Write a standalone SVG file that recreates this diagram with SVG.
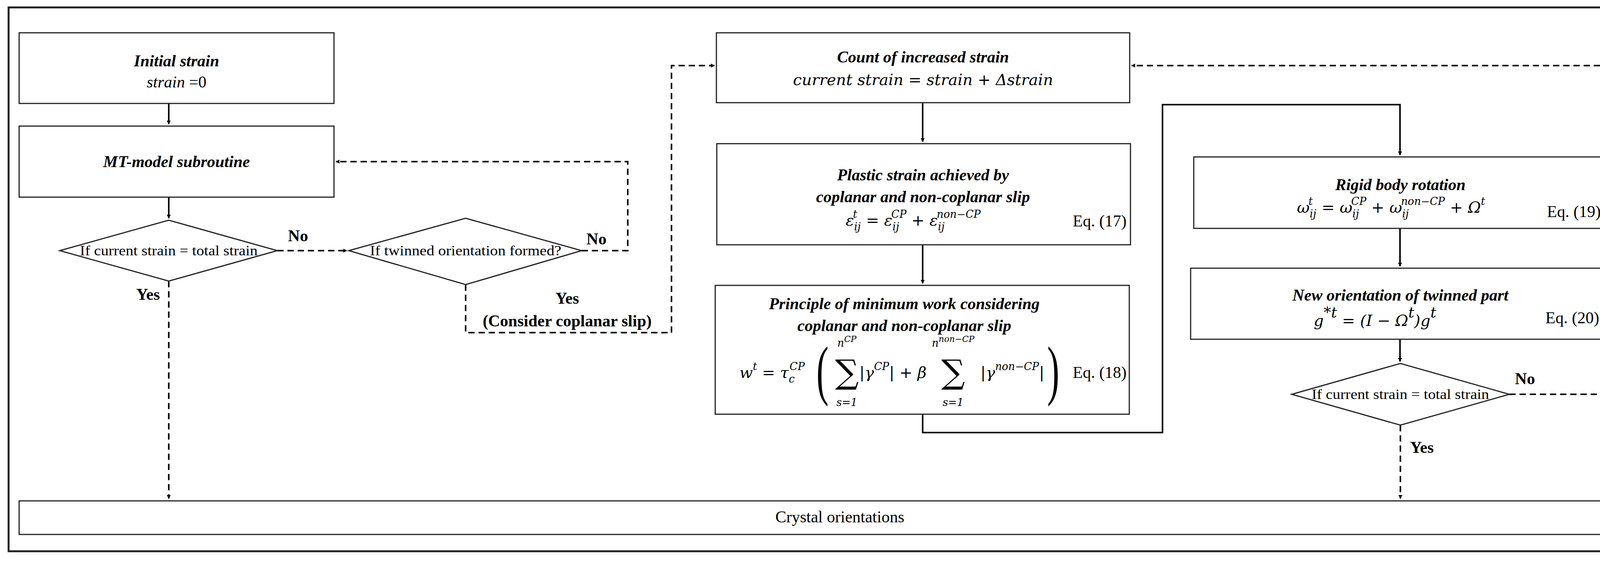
<svg xmlns="http://www.w3.org/2000/svg" width="4306" height="1437" viewBox="0 0 4306 1437">
<defs>
<marker id="ah" markerWidth="10" markerHeight="10" refX="9" refY="5" orient="auto" markerUnits="userSpaceOnUse" viewBox="0 0 10 10"><path d="M0,0 L10,5 L0,10 z" fill="#000"/></marker>
<style>
.box{fill:#fff;stroke:#222;stroke-width:3}
.t{font-family:"Liberation Serif",serif;font-size:42px;fill:#000}
.m{font-family:"DejaVu Serif","Liberation Serif",serif;font-style:italic;font-size:40px;fill:#000}
.bi{font-weight:bold;font-style:italic}
.b{font-weight:bold}
.i{font-style:italic}
.d{font-size:36px}
.s{font-size:27px}
.ln{fill:none;stroke:#000;stroke-width:4}
.da{stroke-dasharray:16 10}
</style>
</defs>
<rect x="22" y="19" width="4262" height="1393" fill="#fff" stroke="#222" stroke-width="5"/>
<g id="connectors">
<path class="ln" d="M432,265 V318" marker-end="url(#ah)"/>
<path class="ln" d="M432,505 V559" marker-end="url(#ah)"/>
<path class="ln da" d="M710,642 H888" marker-end="url(#ah)"/>
<path class="ln da" d="M1489,642 H1607 V414 H860" marker-end="url(#ah)"/>
<path class="ln da" d="M1192,729 V852 H1719 V168 H1829" marker-end="url(#ah)"/>
<path class="ln da" d="M432,720 V1277" marker-end="url(#ah)"/>
<path class="ln" d="M2362,263 V363" marker-end="url(#ah)"/>
<path class="ln" d="M2362,627 V726" marker-end="url(#ah)"/>
<path class="ln" d="M2362,1061 V1108 H2976 V268 H3584 V397" marker-end="url(#ah)"/>
<path class="ln" d="M3584,585 V682" marker-end="url(#ah)"/>
<path class="ln" d="M3584,869 V926" marker-end="url(#ah)"/>
<path class="ln da" d="M3864,1010 H4196 V168 H2897" marker-end="url(#ah)"/>
<path class="ln da" d="M3585,1089 V1277" marker-end="url(#ah)"/>
<text class="t b" x="763" y="618" text-anchor="middle">No</text>
<text class="t b" x="1527" y="626" text-anchor="middle">No</text>
<text class="t b" x="379" y="768" text-anchor="middle">Yes</text>
<text class="t b" x="1452" y="778" text-anchor="middle">Yes</text>
<text class="t b" x="1452" y="836" text-anchor="middle">(Consider coplanar slip)</text>
<text class="t b" x="3904" y="984" text-anchor="middle">No</text>
<text class="t b" x="3640" y="1160" text-anchor="middle">Yes</text>
</g>
<g id="initial">
<rect class="box" x="49" y="84" width="806" height="181"/>
<text class="t bi" x="452" y="170" text-anchor="middle">Initial strain</text>
<text class="t" x="452" y="224" text-anchor="middle"><tspan class="i">strain</tspan> =0</text>
</g>
<g id="mtmodel">
<rect class="box" x="49" y="323" width="806" height="182"/>
<text class="t bi" x="452" y="428" text-anchor="middle">MT-model subroutine</text>
</g>
<g id="decision1">
<polygon class="box" points="153,642 432,564 710,642 432,720"/>
<text class="t d" x="432" y="654" text-anchor="middle" textLength="455" lengthAdjust="spacingAndGlyphs">If current strain = total strain</text>
</g>
<g id="decision2">
<polygon class="box" points="893,642 1192,559 1489,642 1192,729"/>
<text class="t d" x="1192" y="654" text-anchor="middle" textLength="490" lengthAdjust="spacingAndGlyphs">If twinned orientation formed?</text>
</g>
<g id="count">
<rect class="box" x="1834" y="84" width="1058" height="179"/>
<text class="t bi" x="2363" y="160" text-anchor="middle">Count of increased strain</text>
<text class="m" x="2363" y="218" text-anchor="middle">current strain = strain + Δstrain</text>
</g>
<g id="plastic">
<rect class="box" x="1835" y="368" width="1059" height="259"/>
<text class="t bi" x="2363" y="462" text-anchor="middle">Plastic strain achieved by</text>
<text class="t bi" x="2363" y="518" text-anchor="middle">coplanar and non-coplanar slip</text>
<text class="m" x="2165" y="578">ε<tspan class="s" dy="12">ij</tspan><tspan class="s" dx="-20" dy="-32">t</tspan><tspan dx="10" dy="20"> = ε</tspan><tspan class="s" dy="12">ij</tspan><tspan class="s" dx="-20" dy="-32">CP</tspan><tspan dy="20"> + ε</tspan><tspan class="s" dy="12">ij</tspan><tspan class="s" dx="-20" dy="-32">non−CP</tspan></text>
<text class="t" x="2884" y="580" text-anchor="end">Eq. (17)</text>
</g>
<g id="principle">
<rect class="box" x="1831" y="731" width="1060" height="330"/>
<text class="t bi" x="2315" y="792" text-anchor="middle">Principle of minimum work considering</text>
<text class="t bi" x="2315" y="848" text-anchor="middle">coplanar and non-coplanar slip</text>
<text class="m" x="1893" y="968">w<tspan class="s" dy="-20">t</tspan><tspan dy="20"> = τ</tspan><tspan class="s" dy="12">c</tspan><tspan class="s" dx="-13" dy="-32">CP</tspan></text>
<text x="2090" y="1005" font-family="Liberation Serif,serif" font-size="170" transform="translate(2090,1005) scale(0.55,1) translate(-2090,-1005)">(</text>
<text x="2712" y="1005" font-family="Liberation Serif,serif" font-size="170" text-anchor="end" transform="translate(2712,1005) scale(0.55,1) translate(-2712,-1005)">)</text>
<text x="2168" y="982" font-family="DejaVu Serif,serif" font-size="85" text-anchor="middle">∑</text>
<text class="m s" x="2168" y="888" text-anchor="middle">n<tspan font-size="22" dy="-12">CP</tspan></text>
<text class="m s" x="2168" y="1040" text-anchor="middle">s=1</text>
<text class="m" x="2200" y="968">|γ<tspan class="s" dy="-20">CP</tspan><tspan dy="20">| + β</tspan></text>
<text x="2440" y="982" font-family="DejaVu Serif,serif" font-size="85" text-anchor="middle">∑</text>
<text class="m s" x="2440" y="888" text-anchor="middle">n<tspan font-size="22" dy="-12">non−CP</tspan></text>
<text class="m s" x="2440" y="1040" text-anchor="middle">s=1</text>
<text class="m" x="2510" y="968">|γ<tspan class="s" dy="-20">non−CP</tspan><tspan dy="20">|</tspan></text>
<text class="t" x="2884" y="968" text-anchor="end">Eq. (18)</text>
</g>
<g id="rigid">
<rect class="box" x="3056" y="402" width="1059" height="183"/>
<text class="t bi" x="3585" y="487" text-anchor="middle">Rigid body rotation</text>
<text class="m" x="3320" y="545">ω<tspan class="s" dy="12">ij</tspan><tspan class="s" dx="-20" dy="-32">t</tspan><tspan dx="10" dy="20"> = ω</tspan><tspan class="s" dy="12">ij</tspan><tspan class="s" dx="-20" dy="-32">CP</tspan><tspan dy="20"> + ω</tspan><tspan class="s" dy="12">ij</tspan><tspan class="s" dx="-20" dy="-32">non−CP</tspan><tspan dy="20"> + Ω</tspan><tspan class="s" dy="-20">t</tspan></text>
<text class="t" x="4098" y="556" text-anchor="end">Eq. (19)</text>
</g>
<g id="neworient">
<rect class="box" x="3048" y="687" width="1059" height="182"/>
<text class="t bi" x="3585" y="770" text-anchor="middle">New orientation of twinned part</text>
<text class="m" x="3520" y="835" font-size="54" text-anchor="middle">g<tspan font-size="38" dy="-22">*t</tspan><tspan dy="22"> = (I − Ω</tspan><tspan font-size="38" dy="-22">t</tspan><tspan dy="22">)g</tspan><tspan font-size="38" dy="-22">t</tspan></text>
<text class="t" x="4094" y="828" text-anchor="end">Eq. (20)</text>
</g>
<g id="decision3">
<polygon class="box" points="3307,1010 3585,931 3864,1010 3585,1089"/>
<text class="t d" x="3585" y="1022" text-anchor="middle" textLength="454" lengthAdjust="spacingAndGlyphs">If current strain = total strain</text>
</g>
<g id="crystal">
<rect class="box" x="49" y="1283" width="4212" height="86"/>
<text class="t" x="2150" y="1338" text-anchor="middle" font-size="38">Crystal orientations</text>
</g>
</svg>
